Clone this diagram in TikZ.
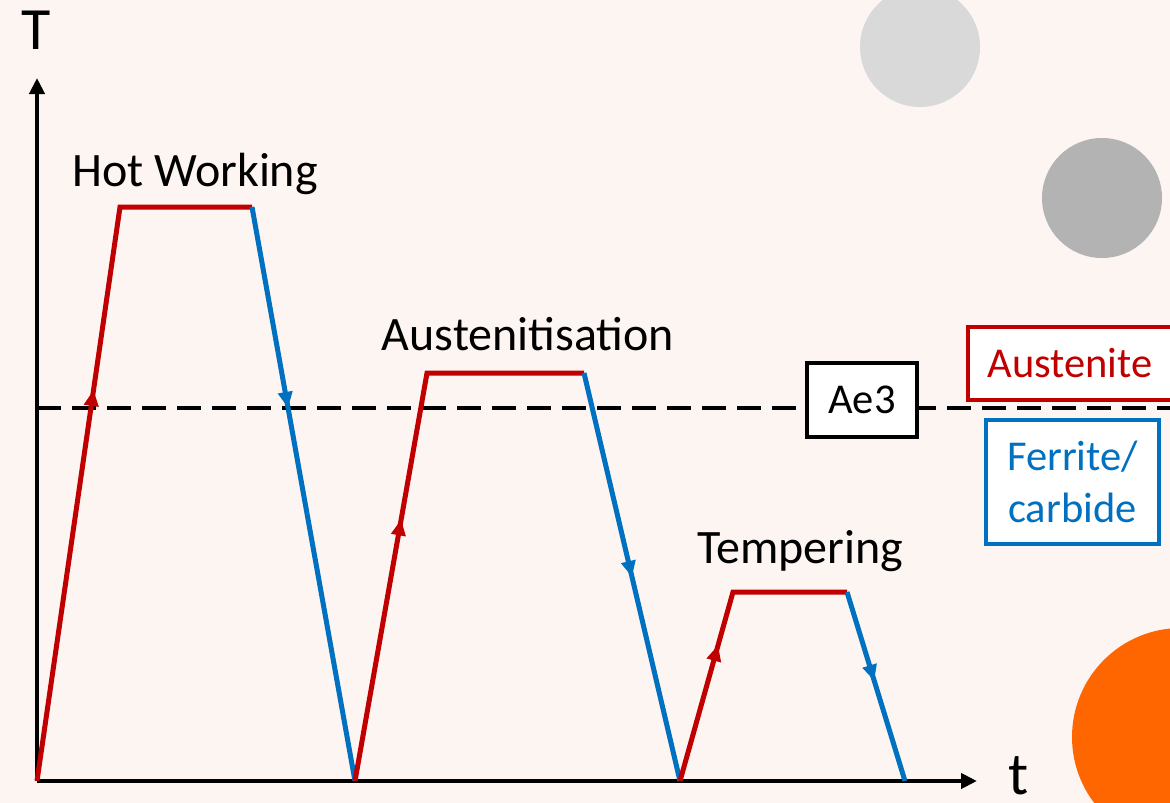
\documentclass[tikz,border=0pt]{standalone}
\usepackage{fontspec}
\setmainfont{Carlito}
\usetikzlibrary{arrows.meta,decorations.markings}
\definecolor{bgpink}{HTML}{FDF5F2}
\definecolor{heatred}{HTML}{C00000}
\definecolor{coolblue}{HTML}{0070C0}
\definecolor{pale}{HTML}{D9D9D9}
\definecolor{midgrey}{HTML}{B3B3B3}
\definecolor{blob}{HTML}{FF6600}

\begin{document}
\begin{tikzpicture}[x=1pt, y=-1pt,
  axis/.style = {line width=4.5pt, -{Triangle[length=16pt, width=15pt]}},
  heat/.style = {heatred, line width=5pt},
  cool/.style = {coolblue, line width=5pt},
  midtip/.style = {postaction={decorate, decoration={markings,
      mark=at position #1 with {\arrow{Triangle[length=16pt, width=14pt]}}}}},
  stage/.style = {anchor=base, font=\fontsize{48}{58}\selectfont},
  axlabel/.style = {anchor=base, inner sep=0pt, font=\fontsize{60}{70}\selectfont},
  phase/.style = {draw, line width=3.5pt, fill=white, inner sep=0pt,
    align=center, font=\fontsize{42.5}{52}\selectfont},
%  every node/.style = {draw}
  ]
  \clip (0,0) rectangle (1170,803);
  \fill[bgpink] (0,0) rectangle (1170,803);
  \fill[pale] (920,47) circle[radius=60];
  \fill[midgrey] (1102,198) circle[radius=60];
  \fill[blob] (1181,737) circle[radius=109];

  \coordinate (o) at (37,781);
  \coordinate (ytip) at (37,78);
  \coordinate (xtip) at (977,781);
  \coordinate (hw1) at (120,207);
  \coordinate (hw2) at (252,207);
  \coordinate (z1) at (355,781);
  \coordinate (au1) at (427,373);
  \coordinate (au2) at (584,373);
  \coordinate (z2) at (680,781);
  \coordinate (tp1) at (733,592);
  \coordinate (tp2) at (847,592);
  \coordinate (tpend) at (905,781);
  \coordinate (ae3l) at (37,408);
  \coordinate (ae3r) at (1170,408);

  \draw[line width=3.5pt, dash pattern=on 24pt off 11pt] (ae3l) -- (ae3r);
  \node[phase, minimum width=110pt, minimum height=74pt] (ae3) at (862,400) {Ae3};
  \node[phase, draw=heatred, text=heatred, minimum width=204pt, minimum height=73pt]
    (austenite) at (1070,363.5) {Austenite};
  \node[phase, draw=coolblue, text=coolblue, minimum width=173pt, minimum height=124pt]
    (ferrite) at (1072.5,482) {Ferrite/\\carbide};

  \draw[axis] (o) -- (ytip);
  \draw[axis] (o) -- (xtip);
  \node[axlabel] (tlabel) at (36.5,49) {T};
  \node[axlabel] (timelabel) at (1019,794) {t};

  \draw[heat, midtip=0.555] (o) -- (hw1) -- (hw2);
  \draw[cool, midtip=0.35] (hw2) -- (z1);
  \draw[heat, midtip=0.465] (z1) -- (au1) -- (au2);
  \draw[cool, midtip=0.5] (au2) -- (z2);
  \draw[heat, midtip=0.455] (z2) -- (tp1) -- (tp2);
  \draw[cool, midtip=0.47] (tp2) -- (tpend);

  \node[stage] (hotwork) at (195,186) {Hot Working};
  \node[stage] (austen) at (528,350) {Austenitisation};
  \node[stage] (temper) at (800,563) {Tempering};
\end{tikzpicture}
\end{document}
